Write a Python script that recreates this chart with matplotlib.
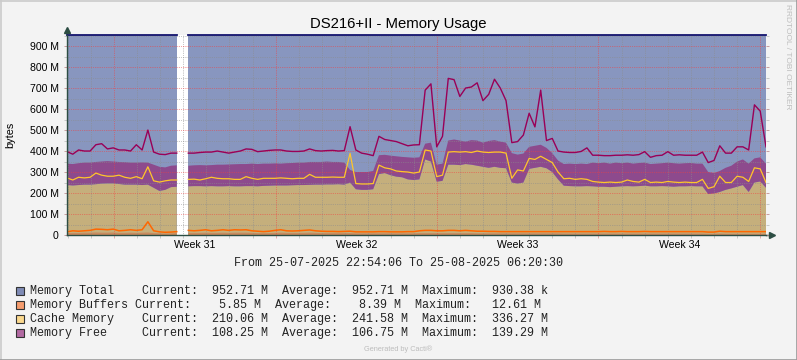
import numpy as np
import pandas as pd
import matplotlib
matplotlib.use("Agg")
import matplotlib.pyplot as plt
import matplotlib.dates as mdates
from matplotlib.ticker import FixedLocator, FixedFormatter, NullFormatter
from matplotlib.lines import Line2D
from matplotlib.patches import Rectangle

nan = np.nan

# ---------------- data ----------------
title = "DS216+II - Memory Usage"
y_label = "bytes"
start_time = "2025-07-25 22:54:06"
end_time = "2025-08-25 06:20:30"
week_starts = ["2025-07-28", "2025-08-04", "2025-08-11", "2025-08-18", "2025-08-25"]
week_labels = ["Week 31", "Week 32", "Week 33", "Week 34"]
ytick_values = [0, 100, 200, 300, 400, 500, 600, 700, 800, 900]
ytick_labels = ["0", "100 M", "200 M", "300 M", "400 M", "500 M", "600 M", "700 M", "800 M", "900 M"]

mem_total = 952.71  # M

cache = [238, 236, 238, 240, 240, 242, 245, 246, 246, 243,
         240, 240, 240, 238, 240, 225, 210, 215, 228, 230,
         nan, 232, 233, 233, 232, 233, 232, 232, 233, 232,
         232, 233, 233, 232, 234, 235, 236, 236, 236, 237,
         238, 238, 239, 240, 240, 241, 241, 242, 240, 250,
         218, 215, 215, 218, 290, 295, 285, 278, 275, 265,
         262, 265, 360, 350, 254, 258, 335, 335, 333, 338,
         335, 330, 325, 320, 325, 320, 318, 250, 245, 250,
         315, 320, 325, 318, 300, 265, 235, 233, 232, 232,
         233, 232, 230, 230, 228, 230, 232, 233, 232, 233,
         235, 232, 232, 233, 232, 230, 232, 232, 233, 232,
         232, 195, 198, 205, 215, 222, 230, 238, 205, 250,
         255, 225]

free = [102, 102, 104, 105, 105, 106, 105, 106, 104, 105,
        107, 105, 105, 108, 105, 110, 115, 107, 102, 102,
        nan, 98, 99, 100, 100, 100, 103, 103, 103, 105,
        106, 105, 107, 106, 106, 105, 105, 104, 106, 106,
        107, 107, 109, 108, 108, 109, 107, 106, 105, 60,
        82, 85, 85, 87, 90, 87, 93, 97, 97, 105,
        106, 105, 75, 90, 81, 82, 115, 120, 117, 107,
        117, 120, 115, 128, 127, 125, 122, 140, 138, 138,
        105, 105, 105, 97, 90, 90, 103, 107, 106, 108,
        105, 113, 112, 115, 112, 115, 110, 112, 108, 110,
        110, 106, 108, 109, 113, 112, 108, 110, 110, 108,
        108, 105, 97, 100, 105, 108, 120, 122, 135, 115,
        115, 115]

buffers = [9, 10, 10, 11, 11, 12, 11, 11, 12, 10,
           10, 11, 10, 11, 12, 9, 8, 7, 8, 9,
           nan, 10, 10, 10, 11, 10, 10, 11, 10, 11,
           11, 11, 10, 9, 9, 9, 10, 11, 10, 10,
           10, 10, 11, 10, 9, 9, 9, 9, 9, 9,
           8, 8, 8, 8, 8, 8, 8, 8, 8, 8,
           8, 9, 9, 9, 9, 9, 9, 9, 9, 9,
           9, 8, 8, 8, 8, 8, 8, 8, 8, 8,
           8, 8, 8, 8, 8, 8, 7, 7, 7, 7,
           7, 7, 7, 7, 7, 7, 7, 7, 7, 7,
           7, 7, 7, 7, 7, 7, 7, 7, 7, 7,
           7, 6, 6, 7, 6, 6, 6, 6, 6, 6,
           6, 6]

cache_line = [272, 262, 275, 272, 275, 295, 285, 280, 280, 285,
              275, 270, 278, 268, 325, 258, 252, 258, 262, 262,
              nan, 265, 266, 262, 268, 275, 270, 268, 268, 265,
              265, 278, 270, 265, 270, 270, 270, 272, 270, 268,
              270, 270, 289, 275, 275, 275, 276, 275, 275, 389,
              245, 243, 243, 245, 333, 320, 315, 305, 302, 300,
              295, 300, 405, 400, 278, 285, 395, 397, 395, 397,
              393, 400, 395, 393, 395, 395, 390, 270, 310, 305,
              365, 360, 375, 360, 345, 300, 268, 270, 265, 268,
              265, 255, 252, 250, 252, 250, 252, 262, 255, 252,
              265, 250, 252, 250, 255, 252, 250, 252, 250, 250,
              265, 222, 230, 280, 250, 250, 280, 275, 255, 320,
              315, 250]

free_line = [397, 385, 405, 400, 400, 430, 435, 410, 415, 405,
             405, 400, 430, 405, 500, 395, 385, 383, 390, 390,
             nan, 390, 390, 393, 395, 395, 400, 395, 390, 395,
             400, 410, 408, 397, 400, 403, 405, 405, 400, 398,
             398, 400, 410, 402, 400, 402, 403, 400, 402, 516,
             405, 390, 385, 378, 470, 455, 450, 445, 435, 425,
             429, 430, 690, 720, 420, 470, 746, 740, 660, 700,
             705, 725, 640, 670, 742, 700, 640, 440, 445, 476,
             580, 515, 690, 450, 460, 400, 395, 393, 393, 398,
             415, 380, 380, 378, 378, 380, 380, 382, 380, 383,
             397, 370, 378, 380, 397, 380, 382, 380, 380, 380,
             395, 345, 355, 425, 390, 390, 420, 420, 405, 620,
             590, 420]

buffers_line = [15, 20, 18, 20, 22, 28, 27, 25, 28, 20,
                22, 25, 22, 25, 63, 20, 15, 13, 14, 16,
                nan, 22, 20, 22, 25, 20, 22, 25, 22, 25,
                24, 25, 20, 18, 16, 18, 22, 25, 20, 19,
                20, 22, 24, 20, 18, 17, 17, 16, 17, 18,
                15, 15, 15, 15, 16, 16, 15, 15, 15, 16,
                16, 20, 22, 22, 20, 20, 22, 22, 20, 22,
                20, 18, 18, 17, 17, 16, 16, 16, 16, 16,
                16, 16, 16, 16, 16, 16, 16, 16, 16, 16,
                16, 16, 16, 17, 16, 16, 17, 16, 16, 16,
                17, 16, 16, 16, 16, 16, 16, 16, 16, 16,
                16, 14, 14, 18, 16, 16, 16, 16, 16, 16,
                16, 16]

legend_rows = [
    "Memory Total    Current:  952.71 M  Average:  952.71 M  Maximum:  930.38 k",
    "Memory Buffers Current:    5.85 M  Average:    8.39 M  Maximum:   12.61 M",
    "Cache Memory    Current:  210.06 M  Average:  241.58 M  Maximum:  336.27 M",
    "Memory Free     Current:  108.25 M  Average:  106.75 M  Maximum:  139.29 M",
]
legend_swatches = ["#7F8BB5", "#F59C6E", "#FBD98E", "#B26AA2"]
range_text = "From 25-07-2025 22:54:06 To 25-08-2025 06:20:30"

# ---------------- styling ----------------
BG = "#F3F3F3"
C_TOTAL = "#8896BF"
C_TOTAL_LINE = "#14146E"
C_CACHE = "#C5AF7C"
C_FREE = "#8D4A8D"
C_BUF = "#C98A5E"
C_CACHE_LINE = "#FFC62A"
C_FREE_LINE = "#9A0057"
C_BUF_LINE = "#FF6600"
C_AXIS = "#2C4D43"

W, H = 797, 360
L, R, T, B = 67, 766, 35, 235


def fx(x):
    return x / W


def fy(y):
    return 1 - y / H


fig = plt.figure(figsize=(W / 100, H / 100), dpi=100, facecolor=BG)
ax = fig.add_axes([fx(L), fy(B), (R - L) / W, (B - T) / H])
ax.set_facecolor("white")

n = len(cache)
t = mdates.date2num(pd.date_range(start_time, end_time, periods=n).to_pydatetime())
cache_a = np.array(cache, float)
free_a = np.array(free, float)
buf_a = np.array(buffers, float)
total_s = np.where(np.isnan(cache_a), np.nan, mem_total)

ax.fill_between(t, 0, total_s, color=C_TOTAL, lw=0, zorder=1)
ax.fill_between(t, 0, cache_a, color=C_CACHE, lw=0, zorder=1.1)
ax.fill_between(t, cache_a, cache_a + free_a, color=C_FREE, lw=0, zorder=1.1)
ax.fill_between(t, 0, buf_a, color=C_BUF, lw=0, zorder=1.2)

ax.plot(t, np.array(free_line, float), color=C_FREE_LINE, lw=1.0, zorder=3)
ax.plot(t, np.array(cache_line, float), color=C_CACHE_LINE, lw=0.9, zorder=3)
ax.plot(t, np.array(buffers_line, float), color=C_BUF_LINE, lw=1.1, zorder=3)
ax.plot(t, total_s, color=C_TOTAL_LINE, lw=1.3, zorder=3, clip_on=False)

ax.set_xlim(t[0], t[-1])
ax.set_ylim(0, mem_total)

# grids / ticks
wk = mdates.date2num(pd.to_datetime(week_starts).to_pydatetime())
days = mdates.date2num(pd.date_range("2025-07-26", "2025-08-25", freq="D").to_pydatetime())
ax.xaxis.set_major_locator(FixedLocator(wk))
ax.xaxis.set_minor_locator(FixedLocator(days))
ax.xaxis.set_major_formatter(NullFormatter())
ax.xaxis.set_minor_formatter(NullFormatter())
ax.yaxis.set_major_locator(FixedLocator(ytick_values))
ax.yaxis.set_major_formatter(FixedFormatter(ytick_labels))
ax.yaxis.set_minor_locator(FixedLocator([v + 50 for v in ytick_values]))

ax.set_axisbelow(False)
ax.grid(which="major", color=(0.95, 0.25, 0.25, 0.38), lw=0.55, ls=(0, (0.8, 1.6)))
ax.grid(which="minor", color=(0.55, 0.55, 0.55, 0.28), lw=0.55, ls=(0, (0.8, 1.6)))

ax.tick_params(axis="y", which="major", length=2.5, width=0.6, color="#C09090",
               labelsize=7.6, pad=3.5, right=True)
ax.tick_params(axis="y", which="minor", length=2, width=0.6, color="#C0C0C0", right=True)
ax.tick_params(axis="x", which="major", length=2.5, width=0.6, color="#E0A0A0")
ax.tick_params(axis="x", which="minor", length=2, width=0.6, color="#C0C0C0")
for lab in ax.get_yticklabels():
    lab.set_family("Liberation Sans")

for s in ["top", "right"]:
    ax.spines[s].set_visible(False)
for s in ["left", "bottom"]:
    ax.spines[s].set_color(C_AXIS)
    ax.spines[s].set_linewidth(1.0)
    ax.spines[s].set_zorder(4)

# axis extensions and arrows
ax.add_line(Line2D([0, 0], [1, 1.02], transform=ax.transAxes, color=C_AXIS, lw=1.0, clip_on=False))
ax.add_line(Line2D([1, 1.006], [0, 0], transform=ax.transAxes, color=C_AXIS, lw=1.0, clip_on=False))
ax.plot([0], [1.025], marker="^", ms=4, color=C_AXIS, transform=ax.transAxes, clip_on=False, zorder=5)
ax.plot([1.008], [0], marker=">", ms=4, color=C_AXIS, transform=ax.transAxes, clip_on=False, zorder=5)

# week labels at middle of each week
xt = ax.get_xaxis_transform()
for i, lab in enumerate(week_labels):
    xm = (wk[i] + wk[i + 1]) / 2
    ax.text(xm, -(248.5 - B) / (B - T), lab, transform=xt, ha="center", va="baseline",
            fontsize=7.6, family="Liberation Sans")

# title, labels
fig.text(fx(398.5), fy(28), title, ha="center", va="baseline", fontsize=10.7,
         family="Liberation Sans", color="black")
fig.text(fx(10), fy(135), y_label, rotation=90, ha="center", va="center",
         fontsize=7.8, family="Liberation Sans")
fig.text(fx(787), fy(57), "RRDTOOL / TOBI OETIKER", rotation=270, ha="center", va="center",
         fontsize=6.0, family="Liberation Sans", color="#BEBEBE")

fig.text(fx(398), fy(263), range_text, ha="center", va="center", fontsize=8.5,
         family="Liberation Mono", color="#222222")

row_y = [291, 305, 319, 332.8]
for yy, txt, col in zip(row_y, legend_rows, legend_swatches):
    fig.patches.append(Rectangle((fx(15.5), fy(yy + 4.3)), 8.5 / W, 8.5 / H, transform=fig.transFigure,
                                 facecolor=col, edgecolor="#333333", lw=0.8))
    fig.text(fx(30), fy(yy), txt, ha="left", va="center", fontsize=8.5,
             family="Liberation Mono", color="#222222")

fig.text(fx(398), fy(349.5), "Generated by Cacti®", ha="center", va="center", fontsize=5.3,
         family="Liberation Sans", color="#BDBDBD")

# frame shading
fig.add_artist(Line2D([0, 1], [fy(0.5), fy(0.5)], transform=fig.transFigure, color="#CBCBCB", lw=1.2))
fig.add_artist(Line2D([fx(0.5), fx(0.5)], [0, 1], transform=fig.transFigure, color="#CBCBCB", lw=1.2))
fig.add_artist(Line2D([0, 1], [fy(359.5), fy(359.5)], transform=fig.transFigure, color="#999999", lw=1.2))
fig.add_artist(Line2D([fx(796.5), fx(796.5)], [0, 1], transform=fig.transFigure, color="#999999", lw=1.2))

fig.savefig("out.png", dpi=100, facecolor=BG)
